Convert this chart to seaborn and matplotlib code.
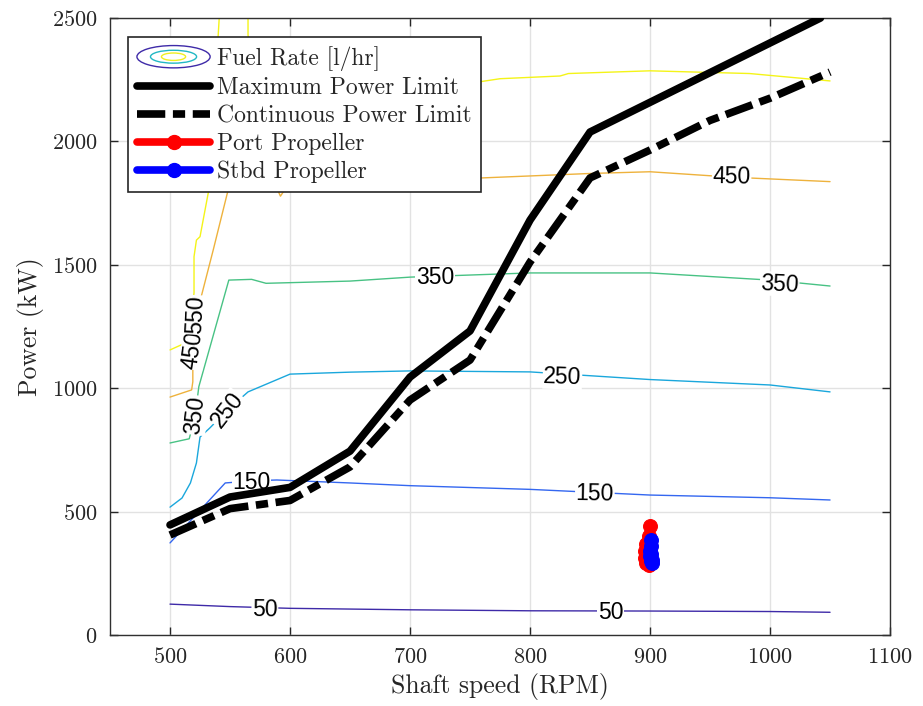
import numpy as np
import pandas as pd
import matplotlib
matplotlib.use("Agg")
import matplotlib.pyplot as plt
import seaborn as sns
from matplotlib.lines import Line2D
from matplotlib.patches import Ellipse
from matplotlib.legend_handler import HandlerBase

# ---------------- data ----------------
rpm_max = [500, 550, 600, 650, 700, 750, 800, 850, 1042]
pow_max = [446, 559, 598, 745, 1045, 1232, 1681, 2038, 2500]

rpm_cont = [500, 550, 600, 650, 700, 750, 800, 850, 900, 950, 1000, 1050]
pow_cont = [405, 512, 545, 681, 952, 1114, 1511, 1852, 1965, 2085, 2175, 2281]

port_rpm = [900, 899, 897, 896, 896, 897, 899, 901, 900]
port_pow = [440, 400, 370, 340, 310, 290, 283, 300, 330]
stbd_rpm = [901, 901, 900, 900, 901, 902, 902, 901]
stbd_pow = [385, 360, 340, 320, 300, 290, 305, 330]

levels = [50, 150, 250, 350, 450, 550]
level_colors = {50: "#3e2aa8", 150: "#3467f0", 250: "#1aa7dc",
                350: "#48c284", 450: "#eeb23c", 550: "#f4f418"}

c50_rpm = [500, 550, 600, 700, 800, 900, 1000, 1050]
c50_pow = [125, 115, 108, 102, 98, 97, 95, 92]

c150_rpm = [500, 546, 570, 589, 650, 700, 800, 900, 1000, 1050]
c150_pow = [373, 616, 625, 628, 616, 605, 590, 567, 556, 547]

c250_rpm = [500, 510, 517, 522, 525, 533, 548, 565, 600, 650, 700, 800, 900, 1000, 1050]
c250_pow = [518, 555, 616, 697, 802, 838, 912, 985, 1057, 1065, 1070, 1066, 1035, 1013, 985]

c350_rpm = [500, 516, 521, 524, 549, 568, 580, 650, 700, 800, 900, 1000, 1050]
c350_pow = [778, 795, 891, 1006, 1438, 1441, 1425, 1434, 1450, 1467, 1467, 1438, 1414]

c450_rpm = [500, 518, 519, 519, 526, 536, 548, 556, 585, 590, 592, 595, 600, 682, 750, 800,
            850, 900, 968, 1050]
c450_pow = [964, 993, 1026, 1155, 1371, 1560, 1795, 1835, 1835, 1800, 1778, 1800, 1832, 1835,
            1850, 1860, 1870, 1877, 1855, 1837]

c550a_rpm = [500, 515, 520, 520, 522, 525, 532, 537, 540, 541]
c550a_pow = [1155, 1188, 1386, 1533, 1600, 1614, 1795, 2100, 2420, 2500]
c550b_rpm = [565, 565, 570, 600, 700, 756, 775, 825, 832, 900, 983, 1050]
c550b_pow = [2500, 2430, 2300, 2255, 2245, 2240, 2254, 2265, 2275, 2286, 2275, 2245]

contours = [(50, c50_rpm, c50_pow), (150, c150_rpm, c150_pow), (250, c250_rpm, c250_pow),
            (350, c350_rpm, c350_pow), (450, c450_rpm, c450_pow),
            (550, c550a_rpm, c550a_pow), (550, c550b_rpm, c550b_pow)]

# contour labels: level, rpm, power, rotation
label_level = [50, 50, 150, 150, 250, 250, 350, 350, 350, 450, 450, 450, 550]
label_rpm = [579, 867, 568, 854, 548, 827, 521, 721, 1008, 519, 682, 968, 521]
label_pow = [101, 93, 616, 571, 912, 1045, 891, 1447, 1422, 1155, 1828, 1855, 1297]
label_rot = [-1, 0, 0, -1, 52, -2, 83, 0, -3, 82, 1, -1, 87]

x_ticks = [500, 600, 700, 800, 900, 1000, 1100]
y_ticks = [0, 500, 1000, 1500, 2000, 2500]

# ---------------- style ----------------
sns.set_style("ticks")
plt.rcParams["font.family"] = ["cmr10", "DejaVu Serif"]
plt.rcParams["mathtext.fontset"] = "cm"
plt.rcParams["axes.formatter.use_mathtext"] = True
plt.rcParams["axes.unicode_minus"] = False

fig = plt.figure(figsize=(9.23, 7.06), dpi=100)
ax = fig.add_axes([0.1192, 0.1006, 0.8451, 0.8739])

# contours
for lev, r, p in contours:
    ax.plot(r, p, color=level_colors[lev], lw=1.0, zorder=2, clip_on=True)

for lev, r, p, rot in zip(label_level, label_rpm, label_pow, label_rot):
    ax.text(r, p, str(lev), fontsize=16.5, family=["Liberation Sans", "DejaVu Sans"],
            color="black", ha="center", va="center", rotation=rot, rotation_mode="anchor",
            zorder=3, bbox=dict(facecolor="white", edgecolor="none", pad=0.5))

df_max = pd.DataFrame({"rpm": rpm_max, "power": pow_max})
df_cont = pd.DataFrame({"rpm": rpm_cont, "power": pow_cont})
df_port = pd.DataFrame({"rpm": port_rpm, "power": port_pow})
df_stbd = pd.DataFrame({"rpm": stbd_rpm, "power": stbd_pow})

cont_dashes = (3.7, 1.0, 1.6, 1.0)

sns.lineplot(data=df_max, x="rpm", y="power", sort=False, estimator=None,
             color="black", lw=5.5, ax=ax, zorder=4)
sns.lineplot(data=df_cont, x="rpm", y="power", sort=False, estimator=None,
             color="black", lw=5.5, ax=ax, zorder=4)
ax.lines[-1].set_dashes(cont_dashes)
ax.lines[-1].set_dash_capstyle("butt")
sns.lineplot(data=df_port, x="rpm", y="power", sort=False, estimator=None,
             color="red", lw=5.5, marker="o", markersize=10, markeredgecolor="red",
             ax=ax, zorder=5)
sns.lineplot(data=df_stbd, x="rpm", y="power", sort=False, estimator=None,
             color="blue", lw=5.5, marker="o", markersize=10, markeredgecolor="blue",
             ax=ax, zorder=6)

ax.set_xlim(450, 1100)
ax.set_ylim(0, 2500)
ax.set_xticks(x_ticks)
ax.set_yticks(y_ticks)
ax.grid(True, color="#e2e2e2", lw=1.0)
ax.set_axisbelow(True)
ax.tick_params(direction="in", length=6, width=1.0, top=True, right=True,
               labelsize=16, colors="#262626", labelcolor="#262626")
ax.tick_params(axis="x", pad=9)
ax.tick_params(axis="y", pad=9)
for s in ax.spines.values():
    s.set_visible(True)
    s.set_color("#303030")
    s.set_linewidth(1.0)
ax.set_xlabel("Shaft speed (RPM)", fontsize=18.5, color="#262626", labelpad=4)
ax.set_ylabel("Power (kW)", fontsize=18.5, color="#262626", labelpad=6)


class FuelHandle:
    pass


class HandlerEllipses(HandlerBase):
    def create_artists(self, legend, orig_handle, xdescent, ydescent, width, height,
                       fontsize, trans):
        cx = width / 2 - xdescent
        cy = height / 2 - ydescent
        arts = []
        for fw, fh, col in [(1.0, 1.35, level_colors[50]), (0.63, 0.78, "#22b8c4"),
                            (0.33, 0.45, "#f0ef20")]:
            e = Ellipse((cx, cy), width * fw, height * fh, facecolor="none",
                        edgecolor=col, lw=1.0, transform=trans)
            arts.append(e)
        return arts


handles = [FuelHandle(),
           Line2D([], [], color="black", lw=5.5),
           Line2D([], [], color="black", lw=5.5, dashes=cont_dashes, dash_capstyle="butt"),
           Line2D([], [], color="red", lw=5.5, marker="o", markersize=10),
           Line2D([], [], color="blue", lw=5.5, marker="o", markersize=10)]
labels = ["Fuel Rate [l/hr]", "Maximum Power Limit", "Continuous Power Limit",
          "Port Propeller", "Stbd Propeller"]
leg = ax.legend(handles, labels, handler_map={FuelHandle: HandlerEllipses()},
                loc="upper left", bbox_to_anchor=(0.023, 0.969), borderaxespad=0,
                fontsize=17, handlelength=3.1, handletextpad=0.3, labelspacing=0.25,
                borderpad=0.38, numpoints=1, fancybox=False, framealpha=1,
                edgecolor="#262626")
leg.get_frame().set_linewidth(1.2)
leg.set_zorder(10)

fig.savefig("out.png", dpi=100)
